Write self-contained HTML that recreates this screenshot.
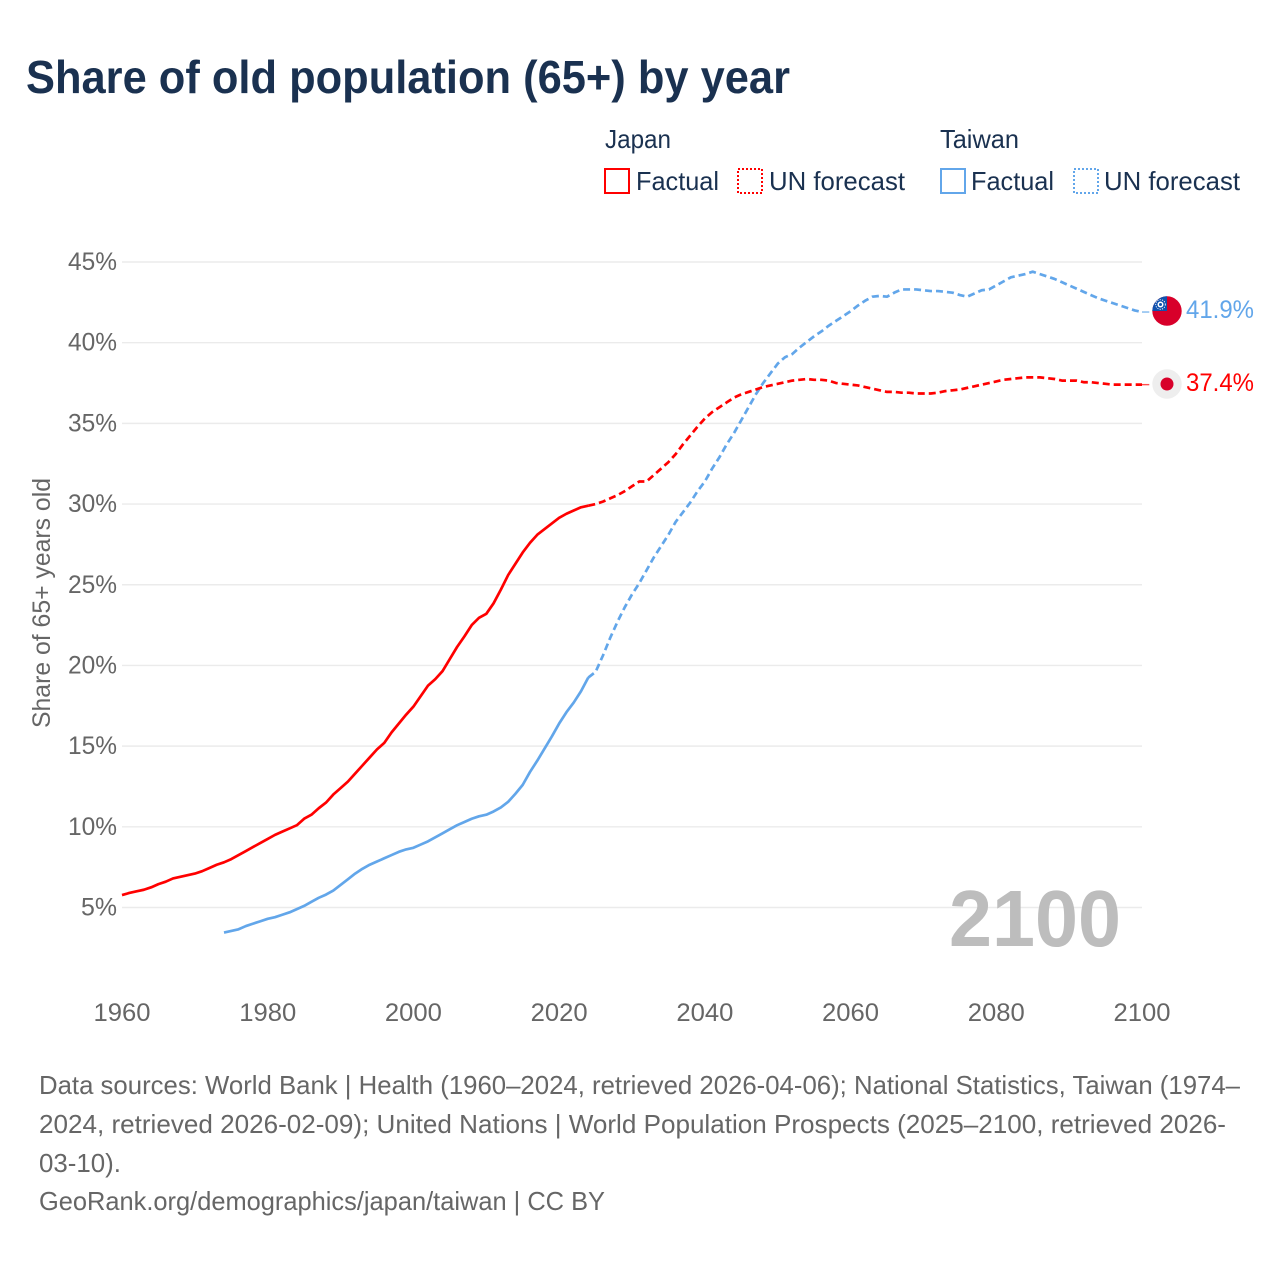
<!DOCTYPE html>
<html lang="en">
<head>
<meta charset="utf-8">
<title>Share of old population (65+) by year</title>
<style>
html,body{margin:0;padding:0;background:#fff;}
svg{display:block;font-family:"Liberation Sans",sans-serif;}
</style>
</head>
<body>
<svg id="chart" xmlns="http://www.w3.org/2000/svg" width="1280" height="1280" viewBox="0 0 1280 1280">
  <rect x="0" y="0" width="1280" height="1280" fill="#ffffff"/>
  <text x="26" y="93" font-size="46" font-weight="700" fill="#1a3150" textLength="764" lengthAdjust="spacingAndGlyphs">Share of old population (65+) by year</text>

  <g font-size="26" fill="#1a3150">
    <text x="605" y="148" textLength="66" lengthAdjust="spacingAndGlyphs">Japan</text>
    <text x="940" y="148" textLength="79" lengthAdjust="spacingAndGlyphs">Taiwan</text>
    <g>
      <rect x="605" y="169" width="24" height="24" fill="none" stroke="#ff0000" stroke-width="2"/>
      <text x="636" y="190" textLength="83" lengthAdjust="spacingAndGlyphs">Factual</text>
    </g>
    <g>
      <rect x="738" y="169" width="24" height="24" fill="none" stroke="#ff0000" stroke-width="2" stroke-dasharray="2 2"/>
      <text x="769" y="190" textLength="136" lengthAdjust="spacingAndGlyphs">UN forecast</text>
    </g>
    <g>
      <rect x="941" y="169" width="24" height="24" fill="none" stroke="#62a6ea" stroke-width="2"/>
      <text x="971" y="190" textLength="83" lengthAdjust="spacingAndGlyphs">Factual</text>
    </g>
    <g>
      <rect x="1074" y="169" width="24" height="24" fill="none" stroke="#62a6ea" stroke-width="2" stroke-dasharray="2 2"/>
      <text x="1104" y="190" textLength="136" lengthAdjust="spacingAndGlyphs">UN forecast</text>
    </g>
  </g>

  <g id="grid"></g>
  <g id="yticks" font-size="25" fill="#666666"></g>
  <g id="xticks" font-size="25" fill="#666666"></g>
  <text transform="translate(50,603) rotate(-90)" text-anchor="middle" font-size="25" fill="#666666" textLength="250" lengthAdjust="spacingAndGlyphs">Share of 65+ years old</text>
  <text x="949" y="946" font-size="80" font-weight="700" fill="#bdbdbd" textLength="172" lengthAdjust="spacingAndGlyphs">2100</text>

  <g id="series"></g>

  <g>
    <circle cx="1167" cy="311" r="14.7" fill="#d8002a"/>
    <path d="M1152.3 311 A14.7 14.7 0 0 1 1167 296.3 L1167 311 Z" fill="#1052ae"/>
    <circle cx="1160.5" cy="304.5" r="3" fill="#ffffff"/>
    <circle cx="1160.5" cy="304.5" r="4.8" fill="none" stroke="#ffffff" stroke-width="0.9" stroke-dasharray="1.2 1.2"/>
    <circle cx="1160.5" cy="304.5" r="1.5" fill="#1052ae"/>
  </g>
  <g>
    <circle cx="1167" cy="384" r="14.7" fill="#eeeeee"/>
    <circle cx="1167" cy="384" r="6.5" fill="#d8002a"/>
  </g>
  <text id="end-taiwan" x="1186" y="318" font-size="25" fill="#62a6ea" textLength="68" lengthAdjust="spacingAndGlyphs"></text>
  <text id="end-japan" x="1186" y="391" font-size="25" fill="#ff0000" textLength="68" lengthAdjust="spacingAndGlyphs"></text>

  <g font-size="26" fill="#666666">
    <text x="39" y="1094" textLength="1201" lengthAdjust="spacingAndGlyphs">Data sources: World Bank | Health (1960–2024, retrieved 2026-04-06); National Statistics, Taiwan (1974–</text>
    <text x="39" y="1133" textLength="1187" lengthAdjust="spacingAndGlyphs">2024, retrieved 2026-02-09); United Nations | World Population Prospects (2025–2100, retrieved 2026-</text>
    <text x="39" y="1172" textLength="82" lengthAdjust="spacingAndGlyphs">03-10).</text>
    <text x="39" y="1210" textLength="566" lengthAdjust="spacingAndGlyphs">GeoRank.org/demographics/japan/taiwan | CC BY</text>
  </g>
</svg>

<script>
var yTickValues = [5, 10, 15, 20, 25, 30, 35, 40, 45];
var xTickYears = [1960, 1980, 2000, 2020, 2040, 2060, 2080, 2100];

var japanFactualStart = 1960;
var japanFactual = [
  5.77, 5.9, 6.0, 6.1, 6.25, 6.45, 6.6, 6.8, 6.9, 7.0,
  7.1, 7.25, 7.45, 7.65, 7.8, 8.0, 8.25, 8.5, 8.75, 9.0,
  9.25, 9.5, 9.7, 9.9, 10.1, 10.5, 10.75, 11.15, 11.5, 12.0,
  12.4, 12.8, 13.3, 13.8, 14.3, 14.8, 15.2, 15.85, 16.4, 16.95,
  17.45, 18.1, 18.75, 19.15, 19.65, 20.4, 21.15, 21.8, 22.5, 22.95,
  23.2, 23.85, 24.7, 25.6, 26.3, 27.0, 27.6, 28.1, 28.45, 28.8,
  29.15, 29.4, 29.6, 29.8, 29.9
];
var japanForecastStart = 2025;
var japanForecast = [
  30.0, 30.15, 30.35, 30.55, 30.8, 31.1, 31.4, 31.4, 31.8, 32.2,
  32.6, 33.1, 33.7, 34.25, 34.8, 35.3, 35.7, 36.0, 36.3, 36.6,
  36.8, 36.95, 37.1, 37.25, 37.35, 37.45, 37.55, 37.65, 37.7, 37.75,
  37.7, 37.7, 37.65, 37.5, 37.45, 37.4, 37.35, 37.25, 37.15, 37.05,
  36.95, 36.95, 36.9, 36.9, 36.85, 36.85, 36.85, 36.9, 37.0, 37.05,
  37.1, 37.2, 37.3, 37.4, 37.5, 37.6, 37.7, 37.75, 37.8, 37.85,
  37.85, 37.85, 37.8, 37.75, 37.65, 37.65, 37.65, 37.55, 37.55, 37.5,
  37.45, 37.4, 37.4, 37.4, 37.4, 37.4
];

var taiwanFactualStart = 1974;
var taiwanFactual = [
  3.45, 3.55, 3.65, 3.85, 4.0, 4.15, 4.3, 4.4, 4.55, 4.7,
  4.9, 5.1, 5.35, 5.6, 5.8, 6.05, 6.4, 6.75, 7.1, 7.4,
  7.65, 7.85, 8.05, 8.25, 8.45, 8.6, 8.7, 8.9, 9.1, 9.35,
  9.6, 9.85, 10.1, 10.3, 10.5, 10.65, 10.75, 10.95, 11.2, 11.55,
  12.05, 12.6, 13.4, 14.1, 14.85, 15.6, 16.4, 17.1, 17.7, 18.4,
  19.25
];
var taiwanForecastStart = 2025;
var taiwanForecast = [
  19.6, 20.6, 21.7, 22.7, 23.6, 24.4, 25.1, 25.9, 26.7, 27.4,
  28.1, 28.9, 29.5, 30.1, 30.8, 31.4, 32.2, 32.9, 33.7, 34.4,
  35.2, 36.0, 36.8, 37.5, 38.1, 38.7, 39.1, 39.3, 39.7, 40.05,
  40.4, 40.7, 41.05, 41.35, 41.65, 41.95, 42.3, 42.6, 42.85, 42.9,
  42.85, 43.1, 43.3, 43.3, 43.3, 43.25, 43.2, 43.2, 43.15, 43.1,
  42.95, 42.85, 43.05, 43.25, 43.3, 43.55, 43.8, 44.05, 44.15, 44.25,
  44.4, 44.25, 44.1, 43.95, 43.75, 43.55, 43.35, 43.15, 42.95, 42.75,
  42.6, 42.45, 42.3, 42.15, 42.0, 41.9
];

var NS = 'http://www.w3.org/2000/svg';
var RED = '#ff0000';
var BLUE = '#62a6ea';
function xScale(year) { return 122 + (year - 1960) * (1142 - 122) / 140; }
function yScale(value) { return 907.5 - (value - 5) * (907.5 - 262) / 40; }

function linePath(startYear, values) {
  var d = '';
  for (var i = 0; i < values.length; i++) {
    d += (i ? 'L' : 'M') + xScale(startYear + i).toFixed(2) + ' ' + yScale(values[i]).toFixed(2);
  }
  return d;
}

var gridGroup = document.getElementById('grid');
var yTickGroup = document.getElementById('yticks');
var xTickGroup = document.getElementById('xticks');
var seriesGroup = document.getElementById('series');

yTickValues.forEach(function (v) {
  var line = document.createElementNS(NS, 'line');
  
  
  line.setAttribute('x1', 122);
  line.setAttribute('x2', 1142);
  line.setAttribute('y1', yScale(v));
  line.setAttribute('y2', yScale(v));
  line.setAttribute('stroke', '#ebebeb');
  line.setAttribute('stroke-width', '1.4');
  gridGroup.appendChild(line);

  var label = document.createElementNS(NS, 'text');
  
  
  label.setAttribute('x', 117);
  label.setAttribute('y', yScale(v) + 8);
  label.setAttribute('text-anchor', 'end');
  label.setAttribute('textLength', v < 10 ? 36 : 49);
  label.setAttribute('lengthAdjust', 'spacingAndGlyphs');
  label.textContent = v + '%';
  yTickGroup.appendChild(label);
});

xTickYears.forEach(function (year) {
  var label = document.createElementNS(NS, 'text');
  
  
  label.setAttribute('x', xScale(year));
  label.setAttribute('y', 1021);
  label.setAttribute('text-anchor', 'middle');
  label.setAttribute('textLength', 57);
  label.setAttribute('lengthAdjust', 'spacingAndGlyphs');
  label.textContent = year;
  xTickGroup.appendChild(label);
});

function drawLine(name, d, color, dashed, width, opacity) {
  var path = document.createElementNS(NS, 'path');
  
  
  path.setAttribute('d', d);
  path.setAttribute('fill', 'none');
  path.setAttribute('stroke', color);
  path.setAttribute('stroke-width', width);
  path.setAttribute('stroke-linejoin', 'round');
  if (dashed) path.setAttribute('stroke-dasharray', '7 4');
  if (opacity) path.setAttribute('opacity', opacity);
  seriesGroup.appendChild(path);
}

drawLine('taiwan-factual-line', linePath(taiwanFactualStart, taiwanFactual), BLUE, false, 2.7);
drawLine('taiwan-forecast-line', linePath(taiwanFactualStart + taiwanFactual.length - 1, [taiwanFactual[taiwanFactual.length - 1]].concat(taiwanForecast)), BLUE, true, 2.7);
drawLine('taiwan-end-connector', linePath(taiwanForecastStart + taiwanForecast.length - 1, [taiwanForecast[taiwanForecast.length - 1], taiwanForecast[taiwanForecast.length - 1]]), BLUE, false, 1.4, 0.8);
drawLine('japan-factual-line', linePath(japanFactualStart, japanFactual), RED, false, 2.7);
drawLine('japan-forecast-line', linePath(japanFactualStart + japanFactual.length - 1, [japanFactual[japanFactual.length - 1]].concat(japanForecast)), RED, true, 2.7);
drawLine('japan-end-connector', linePath(japanForecastStart + japanForecast.length - 1, [japanForecast[japanForecast.length - 1], japanForecast[japanForecast.length - 1]]), RED, false, 1.4, 0.7);

document.getElementById('end-taiwan').textContent = taiwanForecast[taiwanForecast.length - 1].toFixed(1) + '%';
document.getElementById('end-japan').textContent = japanForecast[japanForecast.length - 1].toFixed(1) + '%';
</script>
</body>
</html>
